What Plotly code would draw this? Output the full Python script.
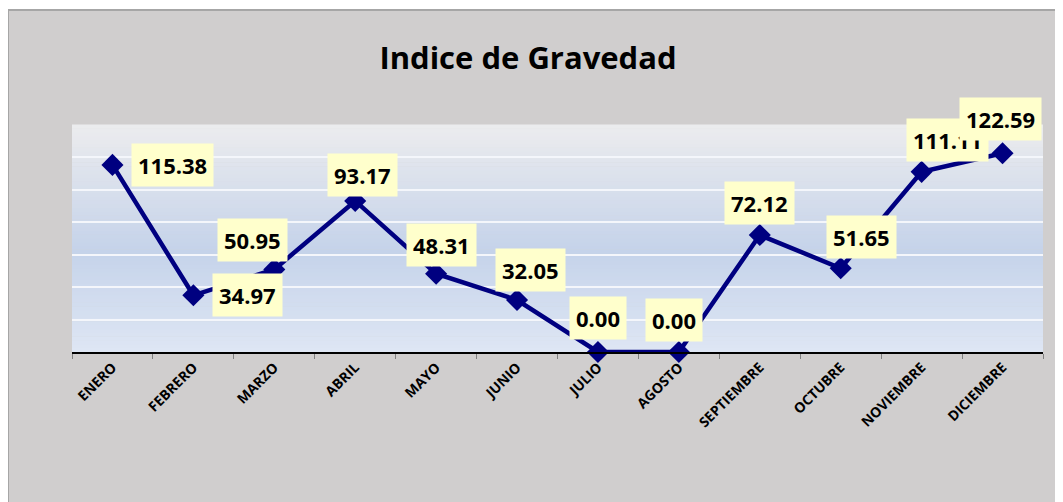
import plotly.graph_objects as go

months = ["ENERO", "FEBRERO", "MARZO", "ABRIL", "MAYO", "JUNIO", "JULIO",
          "AGOSTO", "SEPTIEMBRE", "OCTUBRE", "NOVIEMBRE", "DICIEMBRE"]
values = [115.38, 34.97, 50.95, 93.17, 48.31, 32.05, 0.00, 0.00, 72.12, 51.65, 111.11, 122.59]

# label offsets (pixels) relative to each point
label_dx = [60, 54, -22, 7, 5, 13, 0, -5, 0, 21, 26, -2]
label_dy = [0, 0, 29, 26, 29, 30, 34, 32, 32, 31, 32, 34]

W, H = 1063, 502
OFF = 8  # page body offset
L, R, T, B = 72 - OFF, 1043 - OFF, 125 - OFF, 352 - OFF
pw, ph = R - L, B - T

def px_x(px):
    return (px - L) / pw

def px_y(py):
    return (B - py) / ph

FONT = "Open Sans"

fig = go.Figure()
fig.add_trace(go.Scatter(
    x=months, y=values, mode="lines+markers",
    line=dict(color="#000080", width=4.5),
    marker=dict(symbol="diamond", size=17, color="#000080"),
    cliponaxis=False, showlegend=False, hoverinfo="x+y",
))

shapes = []
# outer chart area
shapes.append(dict(type="rect", xref="paper", yref="paper",
                   x0=px_x(0), x1=px_x(W + 20), y0=px_y(H + 20), y1=px_y(2),
                   fillcolor="#d0cece", line=dict(color="#a6a6a6", width=2), layer="below"))

# gradient plot background
def lerp(c1, c2, t):
    return tuple(round(a + (b - a) * t) for a, b in zip(c1, c2))

stops = [(0.0, (222, 230, 244)), (0.45, (197, 211, 234)), (1.0, (236, 236, 238))]
N = 60
for i in range(N):
    t0, t1 = i / N, (i + 1) / N
    tm = (t0 + t1) / 2
    for (sa, ca), (sb, cb) in zip(stops[:-1], stops[1:]):
        if sa <= tm <= sb:
            c = lerp(ca, cb, (tm - sa) / (sb - sa))
            break
    shapes.append(dict(type="rect", xref="paper", yref="paper",
                       x0=0, x1=1, y0=t0, y1=t1 + 0.002,
                       fillcolor="rgb(%d,%d,%d)" % c, line=dict(width=0), layer="below"))

annotations = []
for m, v, dx, dy in zip(months, values, label_dx, label_dy):
    annotations.append(dict(
        x=m, y=v, xref="x", yref="y", text="<b>%.2f</b>" % v, showarrow=False,
        xshift=dx, yshift=dy, bgcolor="#ffffcc", borderpad=6,
        font=dict(family=FONT, size=22, color="#000000"),
    ))

fig.update_layout(
    width=W, height=H,
    margin=dict(l=L, r=W - R, t=T, b=H - B),
    paper_bgcolor="white",
    plot_bgcolor="rgba(0,0,0,0)",
    title=dict(text="<b>Indice de Gravedad</b>", x=(528 - OFF) / W, xref="container", xanchor="center",
               y=1 - (58 - OFF) / H, yref="container", yanchor="middle",
               font=dict(family=FONT, size=31, color="#000000")),
    shapes=shapes,
    annotations=annotations,
    xaxis=dict(
        showline=True, linecolor="#000000", linewidth=1.5,
        ticks="outside", tickcolor="#808080", ticklen=5, tickson="boundaries",
        tickangle=-45, showgrid=False,
        tickfont=dict(family=FONT, size=14, color="#000000"),
        tickprefix="<b>", ticksuffix="</b>",
        range=[-0.5, 11.5],
    ),
    yaxis=dict(
        range=[0, 140], dtick=20, showticklabels=False, showline=False,
        gridcolor="#f4f6fb", gridwidth=1.5, zeroline=False, ticks="",
    ),
)

fig.write_html("out.html")
